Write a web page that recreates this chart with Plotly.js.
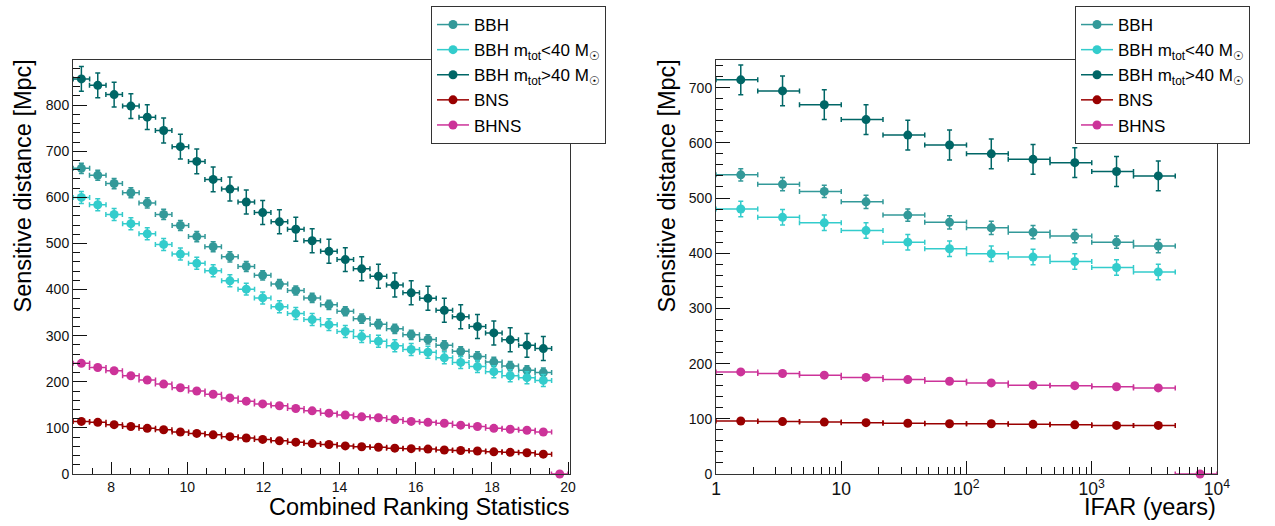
<!DOCTYPE html>
<html>
<head>
<meta charset="utf-8">
<script src="https://cdn.plot.ly/plotly-3.0.1.min.js"></script>
<style>html,body{margin:0;padding:0;background:#fff;}#chart{width:1275px;height:526px;}</style>
</head>
<body>
<div id="chart"></div>
<script>
// ---------- Left panel: vs Combined Ranking Statistics ----------
var rankX = [7.22, 7.65, 8.08, 8.52, 8.95, 9.38, 9.82, 10.25, 10.68, 11.12, 11.55, 11.98, 12.42, 12.85, 13.28,
             13.72, 14.15, 14.58, 15.02, 15.45, 15.88, 16.32, 16.75, 17.18, 17.62, 18.05, 18.48, 18.92, 19.35, 19.78];
var rankHalfBin = 0.217;

var rankBBH      = [663, 648, 630, 610, 588, 563, 539, 515, 493, 471, 450, 431, 412, 398, 382, 367, 353, 337, 325, 315, 302, 292, 279, 266, 255, 243, 234, 225, 220];
var rankBBHerr   = [11, 11, 11, 11, 11, 11, 11, 11, 11, 11, 11, 10, 10, 10, 10, 10, 10, 10, 10, 10, 10, 10, 10, 10, 10, 10, 10, 10, 10];
var rankBBHlo    = [600, 584, 563, 543, 521, 498, 477, 457, 441, 419, 401, 382, 363, 348, 335, 324, 309, 298, 288, 278, 270, 264, 252, 242, 233, 222, 213, 209, 203];
var rankBBHloErr = [13, 13, 13, 13, 13, 13, 13, 13, 13, 13, 13, 13, 13, 13, 13, 13, 13, 13, 13, 13, 13, 13, 13, 13, 13, 13, 13, 13, 13];
var rankBBHhi    = [857, 843, 823, 798, 774, 745, 710, 678, 639, 618, 590, 567, 547, 531, 506, 483, 465, 445, 429, 410, 393, 381, 355, 341, 320, 306, 291, 279, 272];
var rankBBHhiErr = [27, 27, 27, 27, 27, 27, 27, 27, 27, 26, 26, 26, 26, 26, 26, 26, 26, 26, 26, 26, 26, 26, 26, 26, 26, 26, 26, 26, 26];
var rankBNS      = [114, 112, 107, 103, 99, 96, 91, 88, 85, 81, 78, 75, 72, 69, 66, 64, 61, 59, 58, 56, 55, 54, 52, 51, 50, 48, 47, 46, 43];
var rankBNSerr   = [3, 3, 3, 3, 3, 3, 3, 3, 3, 3, 3, 3, 3, 3, 3, 3, 3, 3, 3, 3, 3, 3, 3, 3, 3, 3, 3, 3, 3];
var rankBHNS     = [240, 231, 224, 213, 204, 195, 187, 180, 173, 165, 158, 152, 148, 142, 137, 132, 128, 124, 122, 118, 114, 112, 110, 106, 103, 99, 97, 95, 91, 0];
var rankBHNSerr  = [4, 4, 4, 4, 4, 4, 4, 4, 4, 4, 4, 4, 4, 4, 4, 4, 4, 4, 4, 4, 4, 4, 4, 4, 4, 4, 4, 4, 4, 0];

// ---------- Right panel: vs IFAR (years) ----------
var ifarEdges = [1, 2.154, 4.642, 10, 21.54, 46.42, 100, 215.4, 464.2, 1000, 2154, 4642, 10000];
var ifarX     = [1.577, 3.398, 7.321, 15.77, 33.98, 73.21, 157.7, 339.8, 732.1, 1577, 3398, 7321];

var ifarBBH      = [542, 525, 512, 493, 469, 456, 446, 438, 431, 420, 413];
var ifarBBHerr   = [11, 12, 11, 12, 11, 12, 12, 12, 12, 11, 12];
var ifarBBHlo    = [480, 465, 455, 441, 420, 408, 399, 393, 385, 374, 366];
var ifarBBHloErr = [14, 14, 14, 14, 14, 14, 14, 14, 14, 14, 14];
var ifarBBHhi    = [714, 694, 669, 642, 614, 596, 580, 570, 564, 548, 540];
var ifarBBHhiErr = [27, 27, 27, 27, 27, 27, 27, 27, 27, 27, 27];
var ifarBNS      = [96, 95, 94, 93, 92, 91, 91, 90, 89, 88, 88];
var ifarBNSerr   = [2, 2, 2, 2, 2, 2, 2, 2, 2, 2, 2];
var ifarBHNS     = [185, 182, 179, 175, 171, 168, 165, 161, 160, 158, 156, 0];
var ifarBHNSerr  = [3, 3, 3, 3, 3, 3, 3, 3, 3, 3, 3, 0];

var seriesNames = ['BBH', 'BBH m<sub>tot</sub><40 M<sub>☉</sub>', 'BBH m<sub>tot</sub>>40 M<sub>☉</sub>', 'BNS', 'BHNS'];
var seriesColors = ['#339999', '#33cccc', '#006666', '#990000', '#cc3399'];

var W = 1275, H = 526;
function px(x) { return x / W; }
function py(y) { return 1 - y / H; }

var traces = [];
function addLeft(y, err, idx) {
  var n = y.length;
  var xs = rankX.slice(0, n);
  traces.push({
    type: 'scatter', mode: 'markers', x: xs, y: y, xaxis: 'x', yaxis: 'y',
    showlegend: false, cliponaxis: false,
    marker: { color: seriesColors[idx], size: 9, symbol: 'circle' },
    error_y: { type: 'data', array: err, visible: true, color: seriesColors[idx], thickness: 1.5, width: 2.5 },
    error_x: { type: 'data', array: xs.map(function () { return rankHalfBin; }), visible: true, color: seriesColors[idx], thickness: 1.5, width: 2.5 },
    hoverinfo: 'x+y'
  });
}
function addRight(y, err, idx) {
  var n = y.length;
  var xs = ifarX.slice(0, n);
  traces.push({
    type: 'scatter', mode: 'markers', x: xs, y: y, xaxis: 'x2', yaxis: 'y2',
    showlegend: false, cliponaxis: false,
    marker: { color: seriesColors[idx], size: 9, symbol: 'circle' },
    error_y: { type: 'data', array: err, visible: true, color: seriesColors[idx], thickness: 1.5, width: 2.5 },
    error_x: { type: 'data', symmetric: false,
      array: xs.map(function (v, i) { return ifarEdges[i + 1] - v; }),
      arrayminus: xs.map(function (v, i) { return v - ifarEdges[i]; }),
      visible: true, color: seriesColors[idx], thickness: 1.5, width: 2.5 },
    hoverinfo: 'x+y'
  });
}
addLeft(rankBBH, rankBBHerr, 0);
addLeft(rankBBHlo, rankBBHloErr, 1);
addLeft(rankBBHhi, rankBBHhiErr, 2);
addLeft(rankBNS, rankBNSerr, 3);
addLeft(rankBHNS, rankBHNSerr, 4);
addRight(ifarBBH, ifarBBHerr, 0);
addRight(ifarBBHlo, ifarBBHloErr, 1);
addRight(ifarBBHhi, ifarBBHhiErr, 2);
addRight(ifarBNS, ifarBNSerr, 3);
addRight(ifarBHNS, ifarBHNSerr, 4);

// legend entries (one set per panel)
['legend', 'legend2'].forEach(function (lg) {
  seriesNames.forEach(function (name, i) {
    traces.push({
      type: 'scatter', mode: 'lines+markers', x: [null], y: [null],
      xaxis: lg === 'legend' ? 'x' : 'x2', yaxis: lg === 'legend' ? 'y' : 'y2',
      name: name, legend: lg, showlegend: true,
      line: { color: seriesColors[i], width: 1.5 },
      marker: { color: seriesColors[i], size: 9 }
    });
  });
});

var tickFont = { family: 'Liberation Sans, Arial, sans-serif', size: 14, color: '#111' };
var axisCommon = {
  showline: true, mirror: true, linecolor: '#333', linewidth: 1,
  showgrid: false, zeroline: false, ticks: 'inside', tickcolor: '#111', tickwidth: 1,
  tickfont: tickFont, fixedrange: true
};
function ax(extra) { return Object.assign({}, axisCommon, extra); }

var titleFont = { family: 'Liberation Sans, Arial, sans-serif', size: 23.5, color: '#000' };
var legendFont = { family: 'Liberation Sans, Arial, sans-serif', size: 17, color: '#000' };

var layout = {
  width: W, height: H,
  margin: { l: 0, r: 0, t: 0, b: 0 },
  paper_bgcolor: '#fff', plot_bgcolor: '#fff',
  showlegend: true,
  xaxis: ax({ domain: [px(73), px(570)], range: [7, 20.05], dtick: 2, tick0: 0, ticklen: 12, anchor: 'y',
              minor: { ticks: 'inside', ticklen: 6, dtick: 0.5, tickcolor: '#111', showgrid: false } }),
  yaxis: ax({ domain: [py(474), py(60)], range: [0, 898], dtick: 100, tick0: 0, ticklen: 14, anchor: 'x',
              minor: { ticks: 'inside', ticklen: 7, dtick: 20, tickcolor: '#111', showgrid: false } }),
  xaxis2: ax({ domain: [px(716), px(1217)], type: 'log', range: [0, 4], dtick: 1, exponentformat: 'power', ticklen: 13, anchor: 'y2',
               minor: { ticks: 'inside', ticklen: 7, dtick: 'D1', tickcolor: '#111', showgrid: false } }),
  yaxis2: ax({ domain: [py(474), py(60)], range: [0, 750], dtick: 100, tick0: 0, ticklen: 14, anchor: 'x2',
               minor: { ticks: 'inside', ticklen: 7, dtick: 20, tickcolor: '#111', showgrid: false } }),
  legend: { x: px(431), y: py(6), xanchor: 'left', yanchor: 'top', bgcolor: '#fff', bordercolor: '#333', borderwidth: 1,
            font: legendFont, itemclick: false, itemdoubleclick: false, itemwidth: 32 },
  legend2: { x: px(1075), y: py(6), xanchor: 'left', yanchor: 'top', bgcolor: '#fff', bordercolor: '#333', borderwidth: 1,
             font: legendFont, itemclick: false, itemdoubleclick: false, itemwidth: 32 },
  annotations: [
    { text: 'Sensitive distance [Mpc]', xref: 'paper', yref: 'paper', x: px(8), y: py(58), xanchor: 'left', yanchor: 'top',
      textangle: -90, showarrow: false, font: titleFont },
    { text: 'Sensitive distance [Mpc]', xref: 'paper', yref: 'paper', x: px(652), y: py(58), xanchor: 'left', yanchor: 'top',
      textangle: -90, showarrow: false, font: titleFont },
    { text: 'Combined Ranking Statistics', xref: 'paper', yref: 'paper', x: px(571), y: py(507), xanchor: 'right', yanchor: 'middle',
      showarrow: false, font: titleFont },
    { text: 'IFAR (years)', xref: 'paper', yref: 'paper', x: px(1218), y: py(507), xanchor: 'right', yanchor: 'middle',
      showarrow: false, font: titleFont }
  ]
};

Plotly.newPlot('chart', traces, layout, { displayModeBar: false, staticPlot: false });
</script>
</body>
</html>
